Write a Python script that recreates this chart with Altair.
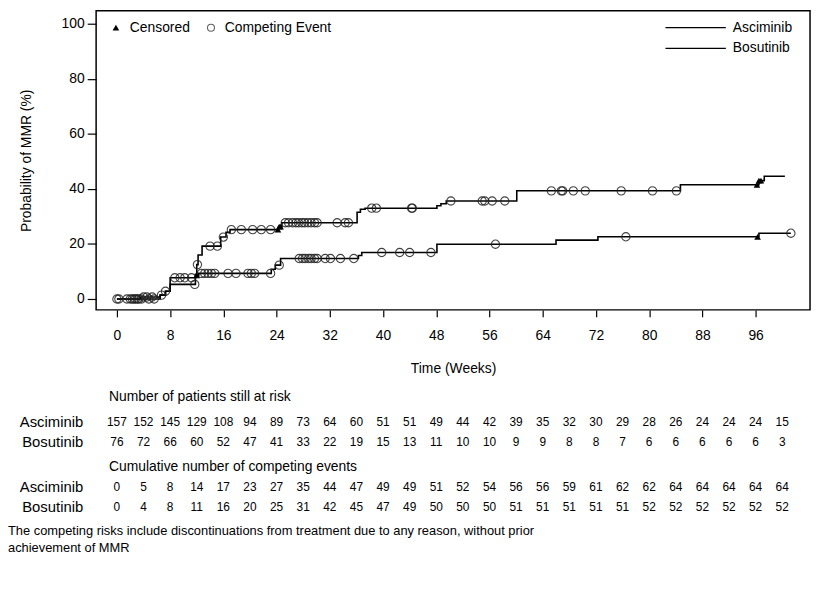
import altair as alt
import pandas as pd

# ---------------- data ----------------
# Step curves (time in weeks, cumulative probability of MMR in %)
asc_step_t = [0, 3.5, 6.5, 7.3, 8.0, 11.8, 12.0, 12.2, 12.8, 15.6, 16.4, 17.0, 24.3, 24.8,
              36.1, 36.6, 37.3, 48.1, 48.7, 49.5, 60.1, 84.7, 96.5, 97.3, 100.4]
asc_step_v = [0, 0.7, 1.4, 2.8, 5.3, 9.0, 12.5, 16.0, 19.2, 22.5, 24.2, 25.2, 26.3, 27.7,
              31.5, 32.6, 33.0, 33.9, 34.6, 35.6, 39.3, 41.5, 43.0, 44.6, 44.6]
bos_step_t = [0, 6.5, 7.3, 8.0, 11.8, 12.3, 23.2, 23.8, 24.6, 36.3, 36.8, 48.1, 66.0,
              72.3, 96.5, 101.3]
bos_step_v = [0, 1.4, 2.8, 7.7, 8.6, 9.3, 10.8, 12.3, 14.7, 15.8, 16.9, 19.9, 21.4,
              22.6, 23.9, 23.9]

# Competing events (circles) and censored (triangles), times in weeks
asc_comp_t = [0, 1.5, 2.3, 2.8, 3.3, 4.0, 4.5, 5.3, 6.7, 7.3, 11.7, 12.1, 14.0, 15.1, 16.0,
              17.2, 18.7, 20.4, 21.7, 23.1, 25.3, 25.8, 26.4, 26.9, 27.3, 27.8, 28.2, 28.7,
              29.2, 29.7, 30.1, 33.1, 34.3, 34.8, 38.3, 39.0, 44.3, 44.4, 50.2, 54.9, 55.3,
              56.4, 58.3, 65.3, 66.8, 67.0, 68.6, 70.4, 75.8, 80.5, 84.1]
bos_comp_t = [0.3, 2.0, 2.6, 3.1, 3.7, 4.8, 5.6, 8.7, 9.5, 10.2, 11.2, 12.7, 13.2, 13.7,
              14.2, 14.7, 16.7, 17.9, 19.7, 20.2, 20.7, 23.1, 24.4, 27.4, 27.9, 28.3, 28.8,
              29.2, 29.7, 30.1, 31.3, 32.1, 33.6, 35.6, 39.8, 42.5, 44.0, 47.2, 56.9, 76.5,
              101.3]
asc_cens_t = [24.2, 24.4, 24.6, 96.2, 96.5, 96.8]
bos_cens_t = [12.0, 96.3]

# Risk table
table_weeks = list(range(0, 101, 4))
asc_at_risk = [157, 152, 145, 129, 108, 94, 89, 73, 64, 60, 51, 51, 49, 44, 42, 39, 35, 32,
               30, 29, 28, 26, 24, 24, 24, 15]
bos_at_risk = [76, 72, 66, 60, 52, 47, 41, 33, 22, 19, 15, 13, 11, 10, 10, 9, 9, 8, 8, 7,
               6, 6, 6, 6, 6, 3]
asc_cum_comp = [0, 5, 8, 14, 17, 23, 27, 35, 44, 47, 49, 49, 51, 52, 54, 56, 56, 59, 61, 62,
                62, 64, 64, 64, 64, 64]
bos_cum_comp = [0, 4, 8, 11, 16, 20, 25, 31, 42, 45, 47, 49, 50, 50, 50, 51, 51, 51, 51, 51,
                52, 52, 52, 52, 52, 52]

x_ticks = list(range(0, 97, 8))
y_ticks = [0, 20, 40, 60, 80, 100]

FONT = "Liberation Sans"


def step_at(ts, vs, t):
    v = vs[0]
    for tt, vv in zip(ts, vs):
        if tt <= t:
            v = vv
    return v


curve_df = pd.concat([
    pd.DataFrame({"t": asc_step_t, "p": asc_step_v, "arm": "Asciminib"}),
    pd.DataFrame({"t": bos_step_t, "p": bos_step_v, "arm": "Bosutinib"}),
])
comp_df = pd.concat([
    pd.DataFrame({"t": asc_comp_t, "p": [step_at(asc_step_t, asc_step_v, t) for t in asc_comp_t]}),
    pd.DataFrame({"t": bos_comp_t, "p": [step_at(bos_step_t, bos_step_v, t) for t in bos_comp_t]}),
])
cens_df = pd.concat([
    pd.DataFrame({"t": asc_cens_t, "p": [step_at(asc_step_t, asc_step_v, t) for t in asc_cens_t]}),
    pd.DataFrame({"t": bos_cens_t, "p": [step_at(bos_step_t, bos_step_v, t) for t in bos_cens_t]}),
])

W, H = 721, 302
x_scale = alt.Scale(domain=[-3.125, 104.18], nice=False, zero=False)
y_scale = alt.Scale(domain=[-3.96, 104.7], nice=False, zero=False)

x_enc = alt.X("t:Q", scale=x_scale,
              axis=alt.Axis(values=x_ticks, title="Time (Weeks)", grid=False, domain=False,
                            tickColor="black", tickSize=7, tickWidth=1.2,
                            labelFontSize=14, labelColor="black", labelFont=FONT,
                            labelPadding=12, titleFont=FONT, titleFontSize=14,
                            titleFontWeight="normal", titleColor="black", titlePadding=19))
y_enc = alt.Y("p:Q", scale=y_scale,
              axis=alt.Axis(values=y_ticks, title="Probability of MMR (%)", grid=False,
                            domain=False, tickColor="black", tickSize=9, tickWidth=1.2,
                            labelFontSize=14, labelColor="black", labelFont=FONT,
                            labelPadding=3, titleFont=FONT, titleFontSize=14,
                            titleFontWeight="normal", titleColor="black", titlePadding=28))

lines = alt.Chart(curve_df).mark_line(interpolate="step-after", color="black",
                                      strokeWidth=1.6).encode(
    x=x_enc, y=y_enc, detail="arm:N")
circles = alt.Chart(comp_df).mark_point(shape="circle", filled=False, color="#222222",
                                        size=70, strokeWidth=1.1, opacity=0.85).encode(
    x=x_enc, y=y_enc)
tris = alt.Chart(cens_df).mark_point(shape="triangle-up", filled=True, color="black",
                                     size=45, opacity=1).encode(x=x_enc, y=y_enc)

# legends
one = pd.DataFrame({"k": [0]})
leg_tri = alt.Chart(one).mark_point(shape="triangle-up", filled=True, color="black",
                                    size=45, opacity=1).encode(x=alt.value(20), y=alt.value(17))
leg_circ = alt.Chart(one).mark_point(shape="circle", filled=False, color="#222222",
                                     size=50, strokeWidth=1.1).encode(x=alt.value(116), y=alt.value(17))
leg_txt1 = alt.Chart(one).mark_text(text="Censored", align="left", baseline="middle",
                                    font=FONT, fontSize=14, color="black").encode(
    x=alt.value(34), y=alt.value(17))
leg_txt2 = alt.Chart(one).mark_text(text="Competing Event", align="left", baseline="middle",
                                    font=FONT, fontSize=14, color="black").encode(
    x=alt.value(130), y=alt.value(17))
leg_line1 = alt.Chart(one).mark_rule(color="black", strokeWidth=1.3).encode(
    x=alt.value(575), x2=alt.value(636), y=alt.value(17))
leg_line2 = alt.Chart(one).mark_rule(color="black", strokeWidth=1.3).encode(
    x=alt.value(575), x2=alt.value(636), y=alt.value(38))
leg_txt3 = alt.Chart(one).mark_text(text="Asciminib", align="left", baseline="middle",
                                    font=FONT, fontSize=14, color="black").encode(
    x=alt.value(643), y=alt.value(17))
leg_txt4 = alt.Chart(one).mark_text(text="Bosutinib", align="left", baseline="middle",
                                    font=FONT, fontSize=14, color="black").encode(
    x=alt.value(643), y=alt.value(38))


# risk table
def row(values, ypix):
    df = pd.DataFrame({"t": table_weeks, "n": [str(v) for v in values]})
    return alt.Chart(df).mark_text(font=FONT, fontSize=12, color="black", baseline="middle",
                                   align="center").encode(
        x=alt.X("t:Q", scale=x_scale), y=alt.value(ypix), text="n:N")


def label(txt, xpix, ypix, align="left", size=14):
    return alt.Chart(one).mark_text(text=txt, align=align, baseline="middle", font=FONT,
                                    fontSize=size, color="black").encode(
        x=alt.value(xpix), y=alt.value(ypix))


table = [
    label("Number of patients still at risk", 13, 390),
    label("Asciminib", -13, 415, "right", 15),
    label("Bosutinib", -13, 435, "right", 15),
    row(asc_at_risk, 415),
    row(bos_at_risk, 435),
    label("Cumulative number of competing events", 13, 461),
    label("Asciminib", -13, 481, "right", 15),
    label("Bosutinib", -13, 501, "right", 15),
    row(asc_cum_comp, 481),
    row(bos_cum_comp, 501),
    label("The competing risks include discontinuations from treatment due to any reason, without prior",
          -89, 525, "left", 13),
    label("achievement of MMR", -89, 543, "left", 13),
]

chart = alt.layer(
    lines, circles, tris,
    leg_tri, leg_circ, leg_txt1, leg_txt2, leg_line1, leg_line2, leg_txt3, leg_txt4,
    *table
).properties(
    width=W, height=H,
    autosize=alt.AutoSizeParams(type="none"),
    padding={"left": 89, "top": 0, "right": 3, "bottom": 278},
    background="white",
).configure_view(stroke="black", strokeWidth=1.5)

chart.save("out.html", embed_options={"renderer": "svg", "actions": False})
